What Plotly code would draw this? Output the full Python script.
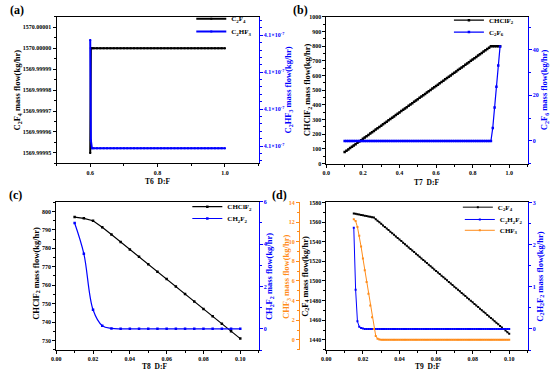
import plotly.graph_objects as go

# ---------------- data ----------------
# (a) T6 D:F
a_x = [0.600, 0.602, 0.605,
       0.61, 0.62, 0.63, 0.64, 0.65, 0.66, 0.67, 0.68, 0.69, 0.70,
       0.71, 0.72, 0.73, 0.74, 0.75, 0.76, 0.77, 0.78, 0.79, 0.80,
       0.81, 0.82, 0.83, 0.84, 0.85, 0.86, 0.87, 0.88, 0.89, 0.90,
       0.91, 0.92, 0.93, 0.94, 0.95, 0.96, 0.97, 0.98, 0.99, 1.00]
a_c2f4 = [1569.99995, 1570.00000, 1570.00000,
          1570.0, 1570.0, 1570.0, 1570.0, 1570.0, 1570.0, 1570.0, 1570.0, 1570.0, 1570.0,
          1570.0, 1570.0, 1570.0, 1570.0, 1570.0, 1570.0, 1570.0, 1570.0, 1570.0, 1570.0,
          1570.0, 1570.0, 1570.0, 1570.0, 1570.0, 1570.0, 1570.0, 1570.0, 1570.0, 1570.0,
          1570.0, 1570.0, 1570.0, 1570.0, 1570.0, 1570.0, 1570.0, 1570.0, 1570.0, 1570.0]
a_c2hf3 = [4.100287e-7, 4.100015e-7, 4.099994e-7,
           4.099994e-7, 4.099994e-7, 4.099994e-7, 4.099994e-7, 4.099994e-7, 4.099994e-7, 4.099994e-7, 4.099994e-7, 4.099994e-7, 4.099994e-7,
           4.099994e-7, 4.099994e-7, 4.099994e-7, 4.099994e-7, 4.099994e-7, 4.099994e-7, 4.099994e-7, 4.099994e-7, 4.099994e-7, 4.099994e-7,
           4.099994e-7, 4.099994e-7, 4.099994e-7, 4.099994e-7, 4.099994e-7, 4.099994e-7, 4.099994e-7, 4.099994e-7, 4.099994e-7, 4.099994e-7,
           4.099994e-7, 4.099994e-7, 4.099994e-7, 4.099994e-7, 4.099994e-7, 4.099994e-7, 4.099994e-7, 4.099994e-7, 4.099994e-7, 4.099994e-7]

# (b) T7 D:F
b_x = [0.10, 0.11, 0.12, 0.13, 0.14, 0.15, 0.16, 0.17, 0.18, 0.19,
       0.20, 0.21, 0.22, 0.23, 0.24, 0.25, 0.26, 0.27, 0.28, 0.29,
       0.30, 0.31, 0.32, 0.33, 0.34, 0.35, 0.36, 0.37, 0.38, 0.39,
       0.40, 0.41, 0.42, 0.43, 0.44, 0.45, 0.46, 0.47, 0.48, 0.49,
       0.50, 0.51, 0.52, 0.53, 0.54, 0.55, 0.56, 0.57, 0.58, 0.59,
       0.60, 0.61, 0.62, 0.63, 0.64, 0.65, 0.66, 0.67, 0.68, 0.69,
       0.70, 0.71, 0.72, 0.73, 0.74, 0.75, 0.76, 0.77, 0.78, 0.79,
       0.80, 0.81, 0.82, 0.83, 0.84, 0.85, 0.86, 0.87, 0.88, 0.89,
       0.90, 0.91, 0.92, 0.93, 0.94, 0.95]
b_chclf2 = [79, 88, 97, 106, 115, 124, 133, 142, 151, 160,
            169, 178, 187, 196, 205, 214, 223, 232, 241, 250,
            259, 268, 277, 286, 295, 304, 313, 322, 331, 340,
            349, 358, 367, 376, 385, 394, 403, 412, 421, 430,
            439, 448, 457, 466, 475, 484, 493, 502, 511, 520,
            529, 538, 547, 556, 565, 574, 583, 592, 601, 610,
            619, 628, 637, 646, 655, 664, 673, 682, 691, 700,
            709, 718, 727, 736, 745, 754, 763, 772, 781, 790,
            799, 800, 800, 800, 800, 800]
b_c2f6 = [0, 0, 0, 0, 0, 0, 0, 0, 0, 0,
          0, 0, 0, 0, 0, 0, 0, 0, 0, 0,
          0, 0, 0, 0, 0, 0, 0, 0, 0, 0,
          0, 0, 0, 0, 0, 0, 0, 0, 0, 0,
          0, 0, 0, 0, 0, 0, 0, 0, 0, 0,
          0, 0, 0, 0, 0, 0, 0, 0, 0, 0,
          0, 0, 0, 0, 0, 0, 0, 0, 0, 0,
          0, 0, 0, 0, 0, 0, 0, 0, 0, 0,
          0, 5.7, 14.7, 23.8, 33.1, 41.5]

# (c) T8 D:F
c_x = [0.010, 0.015, 0.020, 0.025, 0.030, 0.035, 0.040, 0.045, 0.050, 0.055,
       0.060, 0.065, 0.070, 0.075, 0.080, 0.085, 0.090, 0.095, 0.100]
c_chclf2 = [797.0, 796.3, 795.0, 791.5, 787.5, 783.5, 779.4, 775.4, 771.4, 767.3,
            763.3, 759.3, 755.2, 751.2, 747.1, 743.1, 739.1, 735.0, 731.0]
c_ch2f2 = [5.0, 3.55, 0.9, 0.15, 0.02, 0, 0, 0, 0, 0,
           0, 0, 0, 0, 0, 0, 0, 0, 0]

# (d) T9 D:F
d_x = [0.015, 0.016, 0.017, 0.018, 0.019, 0.020, 0.021, 0.022, 0.023, 0.024,
       0.025, 0.026, 0.027, 0.028, 0.029, 0.030, 0.031, 0.032, 0.033, 0.034,
       0.035, 0.036, 0.037, 0.038, 0.039, 0.040, 0.041, 0.042, 0.043, 0.044,
       0.045, 0.046, 0.047, 0.048, 0.049, 0.050, 0.051, 0.052, 0.053, 0.054,
       0.055, 0.056, 0.057, 0.058, 0.059, 0.060, 0.061, 0.062, 0.063, 0.064,
       0.065, 0.066, 0.067, 0.068, 0.069, 0.070, 0.071, 0.072, 0.073, 0.074,
       0.075, 0.076, 0.077, 0.078, 0.079, 0.080, 0.081, 0.082, 0.083, 0.084,
       0.085, 0.086, 0.087, 0.088, 0.089, 0.090, 0.091, 0.092, 0.093, 0.094,
       0.095, 0.096, 0.097, 0.098, 0.099, 0.100]
d_c2f4 = [1568.8, 1568.4, 1568.0, 1567.7, 1567.3, 1566.9, 1566.5, 1566.2, 1565.8, 1565.4,
          1565.0, 1564.6, 1563.0, 1561.4, 1559.8, 1558.2, 1556.6, 1555.0, 1553.4, 1551.8,
          1550.2, 1548.6, 1547.0, 1545.4, 1543.8, 1542.2, 1540.6, 1539.0, 1537.4, 1535.8,
          1534.2, 1532.6, 1531.0, 1529.4, 1527.8, 1526.2, 1524.6, 1523.0, 1521.4, 1519.8,
          1518.2, 1516.6, 1515.0, 1513.4, 1511.8, 1510.2, 1508.6, 1507.0, 1505.4, 1503.8,
          1502.2, 1500.6, 1499.0, 1497.4, 1495.8, 1494.2, 1492.6, 1491.0, 1489.4, 1487.8,
          1486.2, 1484.6, 1483.0, 1481.4, 1479.8, 1478.2, 1476.6, 1475.0, 1473.4, 1471.8,
          1470.2, 1468.6, 1467.0, 1465.4, 1463.8, 1462.2, 1460.6, 1459.0, 1457.4, 1455.8,
          1454.2, 1452.6, 1451.0, 1449.4, 1447.8, 1446.2]
d_c2h2f2 = [2.4, 0.93, 0.18, 0.05, 0.02, 0.01, 0, 0, 0, 0,
            0, 0, 0, 0, 0, 0, 0, 0, 0, 0,
            0, 0, 0, 0, 0, 0, 0, 0, 0, 0,
            0, 0, 0, 0, 0, 0, 0, 0, 0, 0,
            0, 0, 0, 0, 0, 0, 0, 0, 0, 0,
            0, 0, 0, 0, 0, 0, 0, 0, 0, 0,
            0, 0, 0, 0, 0, 0, 0, 0, 0, 0,
            0, 0, 0, 0, 0, 0, 0, 0, 0, 0,
            0, 0, 0, 0, 0, 0]
d_chf3 = [12.3, 12.1, 11.5, 10.6, 9.5, 8.3, 7.1, 5.9, 4.7, 3.5,
          2.3, 1.1, 0.4, 0.12, 0.04, 0.01, 0, 0, 0, 0,
          0, 0, 0, 0, 0, 0, 0, 0, 0, 0,
          0, 0, 0, 0, 0, 0, 0, 0, 0, 0,
          0, 0, 0, 0, 0, 0, 0, 0, 0, 0,
          0, 0, 0, 0, 0, 0, 0, 0, 0, 0,
          0, 0, 0, 0, 0, 0, 0, 0, 0, 0,
          0, 0, 0, 0, 0, 0, 0, 0, 0, 0,
          0, 0, 0, 0, 0, 0]

# ---------------- styling ----------------
W, H = 550, 374
FONT = "Liberation Serif"
BLACK = "#000000"
BLUE = "#0000FF"
ORANGE = "#FF8C1A"
TICK_SIZE = 6
TITLE_SIZE = 8.5
LEG_SIZE = 7


def px(p):
    return p / W


def py(p):
    return 1 - p / H


def axis(color, rng, domain=None, **kw):
    d = dict(
        range=rng, showline=True, linecolor=color, linewidth=1,
        ticks="outside", ticklen=3, tickwidth=1, tickcolor=color,
        tickfont=dict(family=FONT, size=TICK_SIZE, color=color, weight="bold"),
        showgrid=False, zeroline=False,
        minor=dict(ticks="outside", ticklen=2, tickwidth=1, tickcolor=color),
    )
    if domain is not None:
        d["domain"] = domain
    minor = kw.pop("minor_dtick", None)
    if minor is not None:
        d["minor"]["dtick"] = minor
        d["minor"]["tick0"] = kw.get("tick0", 0)
    d.update(kw)
    return d


fig = go.Figure()


def add(x, y, name, color, xa, ya, leg, width=1.2, size=2.5, shape="linear"):
    fig.add_trace(go.Scatter(
        x=x, y=y, name=name, mode="lines+markers", xaxis=xa, yaxis=ya,
        line=dict(color=color, width=width, shape=shape),
        marker=dict(symbol="square", size=size, color=color),
        legend=leg, showlegend=True,
    ))


# traces
add(a_x, a_c2f4, "C<sub>2</sub>F<sub>4</sub>", BLACK, "x", "y", "legend", width=2, size=2)
add(a_x, a_c2hf3, "C<sub>2</sub>HF<sub>3</sub>", BLUE, "x", "y2", "legend2", width=2, size=2)
add(b_x, b_chclf2, "CHClF<sub>2</sub>", BLACK, "x2", "y3", "legend3")
add(b_x, b_c2f6, "C<sub>2</sub>F<sub>6</sub>", BLUE, "x2", "y4", "legend4")
add(c_x, c_chclf2, "CHClF<sub>2</sub>", BLACK, "x3", "y5", "legend5")
add(c_x, c_ch2f2, "CH<sub>2</sub>F<sub>2</sub>", BLUE, "x3", "y6", "legend6", shape="spline")
add(d_x, d_c2f4, "C<sub>2</sub>F<sub>4</sub>", BLACK, "x4", "y7", "legend7", width=1, size=2)
add(d_x, d_c2h2f2, "C<sub>2</sub>H<sub>2</sub>F<sub>2</sub>", BLUE, "x4", "y8", "legend8", width=1, size=2)
add(d_x, d_chf3, "CHF<sub>3</sub>", ORANGE, "x4", "y9", "legend9", width=1, size=2)

# domains
dax = [px(52), px(256)]
day = [py(163), py(14)]
dbx = [px(324.3), px(527.3)]
dby = [py(163.3), py(14)]
dcx = [px(51.7), px(256)]
dcy = [py(352.7), py(202)]
ddx = [px(324.3), px(527.3)]
ddy = [py(352.7), py(202.7)]

sup = "4.1×10<sup>-7</sup>"

fig.update_layout(
    width=W, height=H, margin=dict(l=0, r=0, t=0, b=0),
    paper_bgcolor="white", plot_bgcolor="white",
    font=dict(family=FONT, color=BLACK),
    showlegend=True,
    xaxis=axis(BLACK, [0.5, 1.1], dax, anchor="y", mirror=True,
               tickmode="linear", tick0=0.6, dtick=0.2, tickformat=".1f", minor_dtick=0.1),
    yaxis=axis(BLACK, [1569.999945, 1570.000015], day, anchor="x",
               tickmode="linear", tick0=1569.99995, dtick=0.00001, tickformat=".5f",
               minor_dtick=0.000005),
    yaxis2=axis(BLUE, [4.099953e-7, 4.10035e-7], None, anchor="x", overlaying="y", side="right",
                tickmode="array", tickvals=[4.1000e-7, 4.1001e-7, 4.1002e-7, 4.1003e-7],
                ticktext=[sup, sup, sup, sup]),
    xaxis2=axis(BLACK, [0, 1.1], dbx, anchor="y3", mirror=True,
                tickmode="linear", tick0=0, dtick=0.2, tickformat=".1f", minor_dtick=0.1),
    yaxis3=axis(BLACK, [0, 1000], dby, anchor="x2",
                tickmode="linear", tick0=0, dtick=100, minor_dtick=50),
    yaxis4=axis(BLUE, [-10, 54.5], None, anchor="x2", overlaying="y3", side="right",
                tickmode="linear", tick0=0, dtick=20, minor_dtick=10),
    xaxis3=axis(BLACK, [0, 0.11], dcx, anchor="y5", mirror=True,
                tickmode="linear", tick0=0, dtick=0.02, tickformat=".2f", minor_dtick=0.01),
    yaxis5=axis(BLACK, [724.8, 805.3], dcy, anchor="x3",
                tickmode="linear", tick0=730, dtick=10, minor_dtick=5),
    yaxis6=axis(BLUE, [-1, 6], None, anchor="x3", overlaying="y5", side="right",
                tickmode="linear", tick0=0, dtick=2, minor_dtick=1),
    xaxis4=axis(BLACK, [0, 0.11], ddx, anchor="y7", mirror=True,
                tickmode="linear", tick0=0, dtick=0.02, tickformat=".2f", minor_dtick=0.01),
    yaxis7=axis(BLACK, [1429.6, 1580], ddy, anchor="x4",
                tickmode="linear", tick0=1440, dtick=20, minor_dtick=10),
    yaxis8=axis(BLUE, [-0.5, 3], None, anchor="x4", overlaying="y7", side="right",
                tickmode="linear", tick0=0, dtick=1, minor_dtick=0.5),
    yaxis9=axis(ORANGE, [-1.04, 14], None, anchor="free", position=px(296.7),
                overlaying="y7", side="left",
                tickmode="linear", tick0=0, dtick=2, minor_dtick=1),
)

# legends: one per entry so each can be placed exactly
leg_pos = {
    "legend": (228, 16), "legend2": (228, 29),
    "legend3": (488, 17.5), "legend4": (488, 29.5),
    "legend5": (224, 207), "legend6": (224, 219),
    "legend7": (497, 207.5), "legend8": (499, 220), "legend9": (499, 231),
}
for k, (tx, ty) in leg_pos.items():
    fig.update_layout(**{k: dict(
        x=px(tx - 40), y=py(ty), xanchor="left", yanchor="middle",
        bgcolor="rgba(0,0,0,0)", borderwidth=0, visible=True,
        font=dict(family=FONT, size=LEG_SIZE, color=BLACK, weight="bold"),
        tracegroupgap=0,
    )})


# axis titles and panel labels as annotations
def ann(text, x, y, color=BLACK, size=TITLE_SIZE, angle=-90):
    fig.add_annotation(text=text, x=px(x), y=py(y), xref="paper", yref="paper",
                       showarrow=False, textangle=angle, xanchor="center", yanchor="middle",
                       font=dict(family=FONT, size=size, color=color, weight="bold"))


ann("C<sub>2</sub>F<sub>4</sub> mass flow(kg/hr)", 12.5, 88.5)
ann("C<sub>2</sub>HF<sub>3</sub> mass flow(kg/hr)", 286, 88.5, BLUE)
ann("CHClF<sub>2</sub> mass flow(kg/hr)", 305, 88.5)
ann("C<sub>2</sub>F<sub>6</sub> mass flow(kg/hr)", 544, 88.5, BLUE)
ann("CHClF<sub>2</sub> mass flow(kg/hr)", 31.5, 275)
ann("CH<sub>2</sub>F<sub>2</sub> mass flow(kg/hr)", 267, 278, BLUE)
ann("CHF<sub>3</sub> mass flow(kg/hr)", 284, 278, ORANGE)
ann("C<sub>2</sub>F<sub>4</sub> mass flow(kg/hr)", 303, 278)
ann("C<sub>2</sub>H<sub>2</sub>F<sub>2</sub> mass flow(kg/hr)", 540, 278, BLUE)

ann("T6  D:F", 154, 181, size=7.5, angle=0)
ann("T7  D:F", 425, 182, size=7.5, angle=0)
ann("T8  D:F", 151, 369.5, size=7.5, angle=0)
ann("T9  D:F", 426, 369.5, size=7.5, angle=0)

ann("(a)", 12, 7, size=12, angle=0)
ann("(b)", 298, 7, size=12, angle=0)
ann("(c)", 11, 195, size=12, angle=0)
ann("(d)", 277, 195, size=12, angle=0)

fig.write_html(
    "out.html",
    config={"displayModeBar": False, "staticPlot": False},
    post_script="document.body.style.margin='0';document.body.style.padding='0';"
                "document.documentElement.style.overflow='hidden';",
)
